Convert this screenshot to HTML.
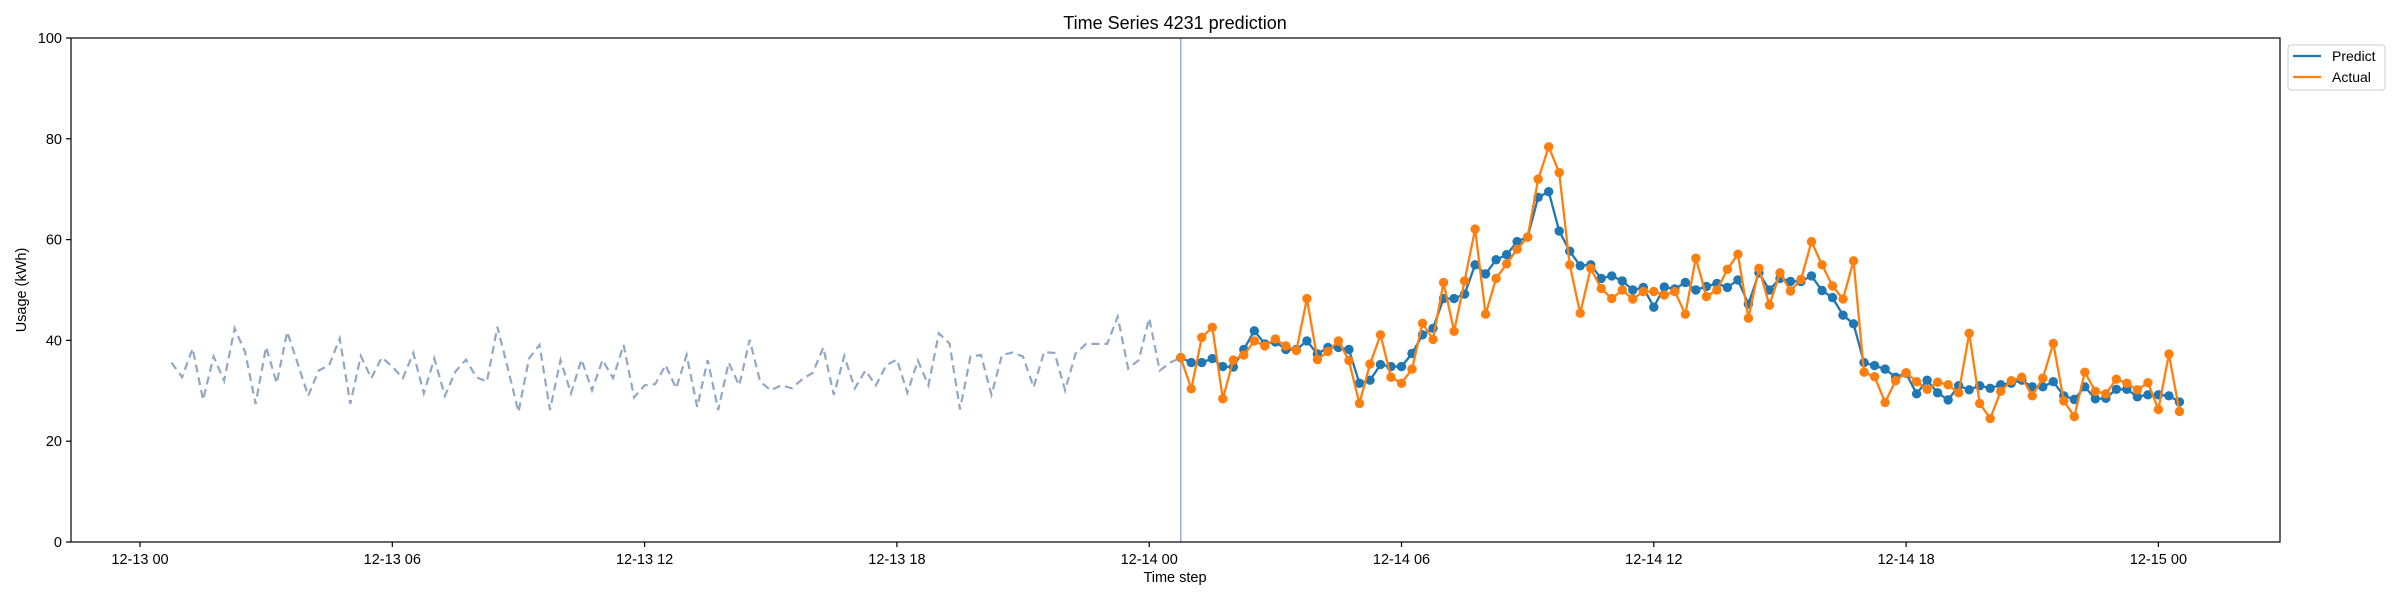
<!DOCTYPE html>
<html><head><meta charset="utf-8"><style>
html,body{margin:0;padding:0;background:#fff;}
svg{display:block;font-family:"Liberation Sans","DejaVu Sans",sans-serif;}
</style></head>
<body>
<svg id="chart" width="2400" height="600" viewBox="0 0 2400 600" xmlns="http://www.w3.org/2000/svg">
<rect x="0" y="0" width="2400" height="600" fill="#fff"/>
<text x="1175" y="29" font-size="18" text-anchor="middle" fill="#000">Time Series 4231 prediction</text>
<text x="0" y="0" font-size="14.5" text-anchor="middle" fill="#000" transform="translate(26,290) rotate(-90)">Usage (kWh)</text>
<text x="1175" y="582" font-size="14.5" text-anchor="middle" fill="#000">Time step</text>
<g id="plot"></g>
<rect x="71" y="38" width="2209" height="504" fill="none" stroke="#000" stroke-width="1.2"/>
<g>
<rect x="2288" y="45" width="97" height="45" fill="#fff" stroke="#ccc" stroke-width="1" rx="3"/>
<line x1="2293" y1="56" x2="2321" y2="56" stroke="#1f77b4" stroke-width="2.2"/>
<text x="2332" y="61" font-size="14" fill="#000">Predict</text>
<line x1="2293" y1="77" x2="2321" y2="77" stroke="#ff7f0e" stroke-width="2.2"/>
<text x="2332" y="82" font-size="14" fill="#000">Actual</text>
</g>
</svg>
<script>
const history = [35.6,32.7,38.4,28.2,36.8,32.0,42.4,37.7,27.4,38.7,31.5,41.7,35.4,29.0,34.0,35.1,40.4,27.4,36.9,32.5,36.6,34.8,32.5,37.5,29.5,36.4,29.0,33.8,36.2,32.7,31.8,42.7,
34.4,25.8,36.4,39.1,26.2,36.1,29.5,36.2,30.1,36.1,32.5,39.1,28.7,31.1,31.3,35.1,30.5,37.1,26.8,36.1,26.2,35.6,31.1,40.1,31.8,30.1,31.1,30.5,32.3,33.6,38.6,29.2,
36.9,30.5,34.0,31.1,35.1,36.2,29.6,36.0,31.1,41.4,39.4,26.3,36.8,37.1,29.2,37.1,37.6,36.8,30.7,37.7,37.5,30.1,37.4,39.3,39.3,39.3,44.7,34.4,36.1,44.4,34.0,35.6];
const predict = [36.6,35.6,35.6,36.4,34.8,34.7,38.2,41.9,39.3,39.7,38.2,38.2,39.9,37.3,38.6,38.6,38.2,31.5,32.1,35.2,34.8,34.8,37.4,41.1,
42.4,48.3,48.3,49.2,55.0,53.2,56.0,57.0,59.6,60.5,68.4,69.5,61.7,57.7,54.8,55.0,52.3,52.8,51.8,50.0,50.5,46.6,50.6,50.2,
51.5,50.0,50.7,51.3,50.5,52.0,47.2,53.4,50.0,52.3,51.7,51.7,52.8,49.9,48.5,45.0,43.3,35.6,35.0,34.3,32.7,33.5,29.4,32.1,
29.6,28.2,31.0,30.2,31.0,30.5,31.2,31.5,32.1,30.8,30.8,31.8,29.0,28.3,30.8,28.4,28.5,30.3,30.3,28.8,29.2,29.2,29.0,27.8];
const actual = [36.6,30.4,40.6,42.6,28.4,36.1,37.1,39.9,38.9,40.3,38.9,38.0,48.3,36.2,37.8,39.9,36.0,27.5,35.3,41.1,32.7,31.5,34.3,43.4,
40.2,51.5,41.8,51.8,62.1,45.2,52.3,55.2,58.1,60.5,72.0,78.4,73.3,55.0,45.4,54.3,50.3,48.3,50.0,48.2,49.7,49.7,49.0,49.7,
45.2,56.3,48.7,50.0,54.1,57.1,44.4,54.3,47.0,53.4,49.8,52.1,59.6,55.0,50.8,48.2,55.8,33.7,32.8,27.7,32.0,33.6,31.8,30.3,
31.7,31.2,29.6,41.4,27.5,24.5,29.9,32.0,32.7,29.0,32.5,39.4,28.0,24.9,33.7,29.9,29.4,32.3,31.5,30.2,31.6,26.3,37.3,25.9];
const historyStartHour = 0.75;
const forecastStartHour = 24.75;
const stepHours = 0.25;
const xTickHours = [0,6,12,18,24,30,36,42,48];
const xTickLabels = ["12-13 00","12-13 06","12-13 12","12-13 18","12-14 00","12-14 06","12-14 12","12-14 18","12-15 00"];
const yTicks = [0,20,40,60,80,100];

const NS = "http://www.w3.org/2000/svg";
const PL = 71, PR = 2280, PT = 38, PB = 542;
function xScale(h){ return 140 + h * 42.05; }
function yScale(v){ return PB - (v / 100) * (PB - PT); }
const g = document.getElementById('plot');
function mk(tag, attrs){ const e = document.createElementNS(NS, tag); for (const k in attrs) e.setAttribute(k, attrs[k]); g.appendChild(e); return e; }

yTicks.forEach(function(v){
  const y = yScale(v);
  const t = mk('line', {x1: PL-5, y1: y, x2: PL, y2: y, stroke: '#000', 'stroke-width': 1.2});
  
  
  const l = mk('text', {x: PL-9, y: y+5, 'font-size': 14.5, 'text-anchor': 'end', fill: '#000'});
  l.textContent = String(v);
  
  
});
xTickHours.forEach(function(h, i){
  const x = xScale(h);
  const t = mk('line', {x1: x, y1: PB, x2: x, y2: PB+5, stroke: '#000', 'stroke-width': 1.2});
  
  
  const l = mk('text', {x: x, y: PB+22, 'font-size': 14.5, 'text-anchor': 'middle', fill: '#000'});
  l.textContent = xTickLabels[i];
  
  
});

// history dashed line (connects to first actual)
const hp = history.map(function(v, i){ return xScale(historyStartHour + i*stepHours).toFixed(1) + ',' + yScale(v).toFixed(1); });
hp.push(xScale(forecastStartHour).toFixed(1) + ',' + yScale(actual[0]).toFixed(1));
const hl = mk('polyline', {points: hp.join(' '), fill: 'none', stroke: '#90a8c6', 'stroke-width': 2.2, 'stroke-dasharray': '8,5'});



// forecast start marker line
const vx = xScale(forecastStartHour);
const vl = mk('line', {x1: vx, y1: PT, x2: vx, y2: PB, stroke: '#9fb0d4', 'stroke-width': 1.6});



function series(data, color, name){
  const pts = data.map(function(v, i){ return xScale(forecastStartHour + i*stepHours).toFixed(1) + ',' + yScale(v).toFixed(1); });
  const pl = mk('polyline', {points: pts.join(' '), fill: 'none', stroke: color, 'stroke-width': 2.3, 'stroke-linejoin': 'round'});
  
  
  data.forEach(function(v, i){
    const c = mk('circle', {cx: xScale(forecastStartHour + i*stepHours), cy: yScale(v), r: 4.7, fill: color});
    
    
  });
}
series(predict, '#1f77b4', 'predict');
series(actual, '#ff7f0e', 'actual');
</script>
</body></html>
